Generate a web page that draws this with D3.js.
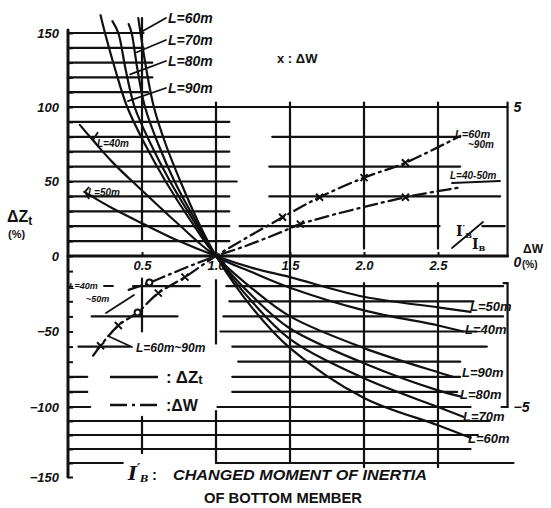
<!DOCTYPE html>
<html>
<head>
<meta charset="utf-8">
<script src="https://cdn.jsdelivr.net/npm/d3@7"></script>
<style>
  body { margin: 0; background: #fff; }
  svg { display: block; }
</style>
</head>
<body>
<svg id="chart" width="551" height="508"></svg>
<script>
// ΔZt (%) against I'B/IB for each span length L — [ratio, ΔZt]
const dzL90 = [[0.22,162],[0.25,150],[0.32,125],[0.40,100],[0.52,75],[0.66,50],[0.82,25],[1,0],[1.25,-22],[1.5,-40],[2,-61],[2.5,-77],[2.6,-80]];
const dzL80 = [[0.30,158],[0.34,150],[0.39,125],[0.45,100],[0.56,75],[0.69,50],[0.84,25],[1,0],[1.25,-27],[1.5,-48],[2,-71],[2.5,-89],[2.65,-93]];
const dzL70 = [[0.41,156],[0.43,150],[0.47,125],[0.52,100],[0.61,75],[0.72,50],[0.855,25],[1,0],[1.25,-31],[1.5,-55],[2,-81],[2.5,-100],[2.67,-107]];
const dzL60 = [[0.475,160],[0.49,150],[0.53,125],[0.58,100],[0.66,75],[0.76,50],[0.87,25],[1,0],[1.25,-35],[1.5,-61],[2,-94],[2.5,-113],[2.72,-122]];
const dzL40 = [[0.08,88],[0.3,63],[0.5,44],[0.75,21],[1,0],[1.25,-11],[1.5,-21],[2,-36],[2.5,-46],[2.67,-50]];
const dzL50 = [[0.11,43],[0.3,32],[0.5,22],[0.75,10],[1,0],[1.25,-8],[1.5,-14],[2,-27],[2.5,-34],[2.72,-37]];

// ΔW (%) against I'B/IB, grouped by span range
const dwL60to90 = [[0.17,-3.3],[0.22,-2.97],[0.34,-2.3],[0.47,-1.87],[0.61,-1.23],[0.79,-0.7],[1,0],[1.45,1.3],[1.7,1.97],[2.0,2.63],[2.28,3.13],[2.65,4.03]];
const dwL40to50 = [[0.41,-1.12],[0.55,-0.88],[0.69,-0.6],[0.84,-0.3],[1,0],[1.18,0.3],[1.44,0.8],[1.57,1.07],[2.28,1.97],[2.65,2.3]];
// computed ΔW points marked on the chart
const dwCrosses = [[0.22,-2.97],[0.34,-2.3],[0.61,-1.23],[0.79,-0.7],[1.45,1.3],[1.7,1.97],[2.0,2.63],[2.28,3.13],[1.57,1.07],[2.28,1.97]];
const dwCircles = [[0.47,-1.87],[0.55,-0.88]];

// axis ticks
const leftTicks = d3.range(-150, 151, 10);
const leftLabels = [150, 100, 50, 0, -50, -100, -150];
const xTicks = [0.5, 1.0, 1.5, 2.0, 2.5];
const rightTicks = [5, 0, -5];

// ---------------------------------------------------------------
const svg = d3.select("#chart");
const INK = "#111";
const F = "'Liberation Sans', Arial, sans-serif";
const X_END = 2.97;                       // position of the ΔW axis

const x = d3.scaleLinear().domain([0, 2.5]).range([68, 438]);
const y = d3.scaleLinear().domain([-150, -100, 0, 100, 150]).range([477, 407, 256, 107, 33]);
const yW = d3.scaleLinear().domain([-5, 0, 5]).range([y(-100), y(0), y(100)]);

// broken grid runs: [ΔZt, from ratio, to ratio] and [ratio, from ΔZt, to ΔZt]
const hRuns = [
  [150,0,0.51],[140,0,0.51],[130,0,0.57],[120,0,0.57],[110,0,0.54],[100,0,X_END],
  [90,0,1.09],[80,0,1.09],[80,1.38,2.64],[70,0,1.09],[60,0,1.09],[60,1.36,2.65],
  [50,0,1.14],[40,0,1.09],[40,1.36,2.92],[30,0,1.09],[20,0,1.09],[20,1.16,2.51],[20,2.8,2.95],[10,0,1.09],
  [-20,0.44,0.89],[-20,1.07,2.94],[-30,1.09,2.74],[-40,0.16,0.74],[-40,1.05,2.94],[-50,1.03,2.76],
  [-60,0.07,0.42],[-60,1.11,2.83],[-70,1.15,2.65],[-80,0,0.13],[-80,1.11,2.65],[-90,0,0.13],[-90,1.11,2.63],
  [-100,0,0.15],[-100,1.01,2.72],[-110,0,2.85],[-120,0,2.77],[-130,0,2.72],[-140,0,0.37],[-140,1.0,3.01]
];
const vRuns = [
  [0.5,160,10],[0.5,-15,-50],[0.5,-107,-133],
  [1.0,103,0],[1.0,-16,-58],[1.0,-103,-140],
  [1.5,103,-140],
  [2.0,103,5],[2.0,-18,-143],
  [2.5,103,5],[2.5,-18,-143],
  [X_END,103,0],[X_END,-18,-100]
];

const grid = svg.append("g").attr("stroke", INK).attr("stroke-width", 2.2).attr("stroke-linecap", "round");
grid.selectAll(".h").data(hRuns).join("line")
  .attr("x1", d => x(d[1])).attr("x2", d => x(d[2]))
  .attr("y1", d => y(d[0])).attr("y2", d => y(d[0]));
grid.selectAll(".v").data(vRuns).join("line")
  .attr("x1", d => x(d[0])).attr("x2", d => x(d[0]))
  .attr("y1", d => y(d[1])).attr("y2", d => y(d[2]));
// small feet of the ΔW bracket
grid.append("line").attr("x1", x(X_END) - 6).attr("x2", x(X_END)).attr("y1", yW(-5)).attr("y2", yW(-5));
grid.append("line").attr("x1", x(X_END) - 4).attr("x2", x(X_END)).attr("y1", y(-18)).attr("y2", y(-18));

// main axes
const axes = svg.append("g").attr("stroke", INK).attr("stroke-width", 3).attr("stroke-linecap", "round");
axes.append("line").attr("x1", x(0)).attr("x2", x(0)).attr("y1", y(152)).attr("y2", y(-150));
axes.append("line").attr("x1", x(0)).attr("x2", x(X_END)).attr("y1", y(0)).attr("y2", y(0));

function styleAxis(g, size, style) {
  g.select(".domain").remove();
  g.selectAll(".tick line").attr("stroke", INK).attr("stroke-width", 2);
  g.selectAll(".tick text").attr("fill", INK).attr("font-family", F)
    .attr("font-size", size).attr("font-weight", "bold").attr("font-style", style);
}

const fmtInt = d => d < 0 ? "\u2212" + Math.abs(d) : String(d);
svg.append("g").attr("transform", `translate(${x(0)},0)`)
  .call(d3.axisLeft(y).tickValues(leftTicks).tickSize(-5).tickSizeOuter(0).tickPadding(9)
    .tickFormat(d => leftLabels.includes(d) ? fmtInt(d) : ""))
  .call(g => styleAxis(g, 13, "italic"));

svg.append("g").attr("transform", `translate(0,${y(0)})`)
  .call(d3.axisBottom(x).tickValues(xTicks).tickSize(-4).tickSizeOuter(0).tickPadding(5)
    .tickFormat(d3.format(".1f")))
  .call(g => styleAxis(g, 13, "italic"));

svg.append("g").attr("transform", `translate(${x(X_END)},0)`)
  .call(d3.axisRight(yW).tickValues(rightTicks).tickSize(0).tickPadding(6).tickFormat(fmtInt))
  .call(g => styleAxis(g, 14, "italic"))
  .call(g => g.selectAll(".tick text").attr("dy", d => d === 0 ? "0.75em" : "0.32em"));

// ΔZt curves
const line = d3.line().x(d => x(d[0])).y(d => y(d[1])).curve(d3.curveCatmullRom.alpha(0.5));
const curves = svg.append("g").attr("fill", "none").attr("stroke", INK).attr("stroke-width", 2.2).attr("stroke-linecap", "round");
[dzL90, dzL80, dzL70, dzL60, dzL40, dzL50].forEach(s => curves.append("path").attr("d", line(s)));

// ΔW curves (dash-dot)
const lineW = d3.line().x(d => x(d[0])).y(d => yW(d[1])).curve(d3.curveCatmullRom.alpha(0.5));
[dwL60to90, dwL40to50].forEach(s => curves.append("path").attr("d", lineW(s))
  .attr("stroke-dasharray", "13,5,2,5").attr("stroke-width", 2.3));

// markers
const marks = svg.append("g").attr("stroke", INK).attr("stroke-width", 2).attr("fill", "none");
marks.selectAll(".x").data(dwCrosses).join("path")
  .attr("d", d => { const cx = x(d[0]), cy = yW(d[1]), r = 3.5;
    return `M${cx-r},${cy-r}L${cx+r},${cy+r}M${cx+r},${cy-r}L${cx-r},${cy+r}`; });
marks.selectAll(".o").data(dwCircles).join("circle")
  .attr("cx", d => x(d[0])).attr("cy", d => yW(d[1])).attr("r", 3).attr("fill", "#fff");

// text helper
const txt = (tx, ty, s, size, opts = {}) => svg.append("text")
  .attr("x", tx).attr("y", ty).attr("fill", INK).attr("font-family", opts.family || F)
  .attr("font-size", size).attr("font-weight", opts.weight || "bold")
  .attr("font-style", opts.style || "italic").attr("text-anchor", opts.anchor || "start")
  .text(s);

const leaders = svg.append("g").attr("stroke", INK).attr("stroke-width", 1.8).attr("fill", "none").attr("stroke-linecap", "round");

// span labels on the steep curves (upper left)
const topLabels = [
  { t: "L=60m", ty: 23, tip: [0.50, 151] },
  { t: "L=70m", ty: 45, tip: [0.465, 137] },
  { t: "L=80m", ty: 66, tip: [0.42, 122] },
  { t: "L=90m", ty: 93, tip: [0.405, 104] }
];
topLabels.forEach(d => {
  txt(168, d.ty, d.t, 14);
  leaders.append("line").attr("x1", 166).attr("y1", d.ty - 5).attr("x2", x(d.tip[0])).attr("y2", y(d.tip[1]));
});

// span labels on the shallow curves
txt(97, 147, "L=40m", 10);
leaders.append("path").attr("d", `M${x(0.2)},${y(80)-4}L${x(0.17)},${y(78)}L${x(0.2)},${y(76)+3}`);
txt(88, 196, "L=50m", 10);
leaders.append("path").attr("d", `M${x(0.14)},${y(44)-3}L${x(0.115)},${y(43)}L${x(0.14)},${y(40)+2}`);

// span labels at the right-hand ends
[["L=50m", 470, 311], ["L=40m", 465, 334], ["L=90m", 462, 377],
 ["L=80m", 460, 399], ["L=70m", 463, 421], ["L=60m", 468, 443]]
  .forEach(d => txt(d[1], d[2], d[0], 13));

// ΔW labels
txt(455, 138, "L=60m", 11);
txt(468, 148, "~90m", 10);
txt(450, 179, "L=40-50m", 10);
leaders.append("line").attr("x1", 452).attr("y1", 183).attr("x2", 500).attr("y2", 181);
leaders.append("line").attr("x1", 452).attr("y1", 248).attr("x2", 483).attr("y2", 222);
const ib1 = txt(456, 236, "I", 14, { family: "'DejaVu Serif', serif", style: "normal" });
ib1.append("tspan").text("\u2032").attr("font-size", 10).attr("dy", -4);
ib1.append("tspan").text("B").attr("font-size", 8).attr("dy", 6);
const ib2 = txt(472, 249, "I", 14, { family: "'DejaVu Serif', serif", style: "normal" });
ib2.append("tspan").text("B").attr("font-size", 8).attr("dy", 2);

// ΔW labels, lower left
txt(69, 289, "L=40m", 9);
txt(86, 302, "~50m", 9);
leaders.append("line").attr("x1", 104).attr("y1", 286).attr("x2", 113).attr("y2", 286);
leaders.append("line").attr("x1", 106).attr("y1", 313).attr("x2", 134).attr("y2", 295);
txt(136, 352, "L=60m~90m", 12);
leaders.append("line").attr("x1", 132).attr("y1", 347).attr("x2", 108).attr("y2", 336);

// legend
const legend = svg.append("g").attr("stroke", INK).attr("stroke-width", 2.4);
legend.append("line").attr("x1", 110).attr("x2", 158).attr("y1", 377).attr("y2", 377);
legend.append("line").attr("x1", 110).attr("x2", 160).attr("y1", 405).attr("y2", 405)
  .attr("stroke-dasharray", "17,5,3,5");
const lz = txt(166, 383, ": \u0394Z", 17, { style: "normal" });
lz.append("tspan").text("t").attr("font-size", 13).attr("dy", 1);
txt(166, 411, ":\u0394W", 16, { style: "normal" });

// axis titles
const zt = txt(7, 222, "\u0394Z", 16, { style: "normal" });
zt.append("tspan").text("t").attr("font-size", 12).attr("dy", 3);
txt(8, 238, "(%)", 11, { style: "normal" });
txt(523, 253, "\u0394W", 12, { style: "normal" });
txt(522, 268, "(%)", 10, { style: "normal" });
txt(277, 63, "x : \u0394W", 13, { style: "normal" });

// bottom title
const t1 = txt(128, 480, "I", 19, { family: "'DejaVu Serif', serif", style: "italic", weight: "bold" });
t1.append("tspan").text("\u2032").attr("font-size", 12).attr("dy", -7);
t1.append("tspan").text("B").attr("font-size", 10).attr("dy", 9);
txt(152, 480, ":", 15, { style: "normal" });
txt(173, 480, "CHANGED MOMENT OF INERTIA", 15).attr("textLength", 254).attr("lengthAdjust", "spacingAndGlyphs");
txt(204, 503, "OF BOTTOM MEMBER", 15, { style: "normal" }).attr("textLength", 158).attr("lengthAdjust", "spacingAndGlyphs");
</script>
</body>
</html>
